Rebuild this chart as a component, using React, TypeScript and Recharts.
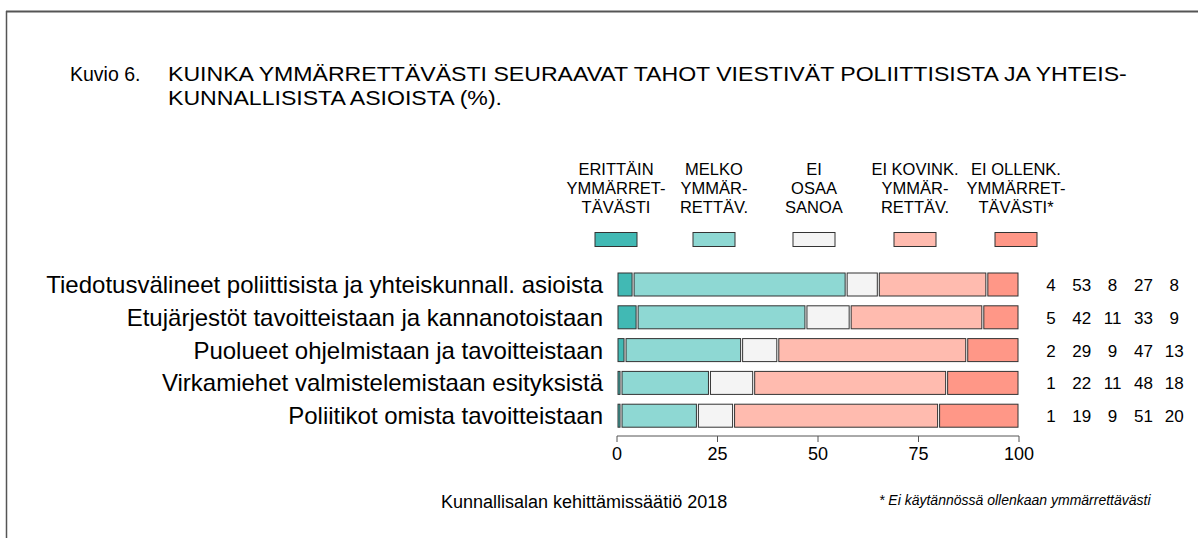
import React from "react";
import { BarChart, Bar, XAxis, YAxis, LabelList } from "recharts";

const categories = [
  "Tiedotusvälineet poliittisista ja yhteiskunnall. asioista",
  "Etujärjestöt tavoitteistaan ja kannanotoistaan",
  "Puolueet ohjelmistaan ja tavoitteistaan",
  "Virkamiehet valmistelemistaan esityksistä",
  "Poliitikot omista tavoitteistaan",
];

const erittain = [4, 5, 2, 1, 1];
const melko = [53, 42, 29, 22, 19];
const eiOsaa = [8, 11, 9, 11, 9];
const eiKovin = [27, 33, 47, 48, 51];
const eiOllenk = [8, 9, 13, 18, 20];

const xTicks = [0, 25, 50, 75, 100];

const legendLines = [
  ["ERITTÄIN", "YMMÄRRET-", "TÄVÄSTI"],
  ["MELKO", "YMMÄR-", "RETTÄV."],
  ["EI", "OSAA", "SANOA"],
  ["EI KOVINK.", "YMMÄR-", "RETTÄV."],
  ["EI OLLENK.", "YMMÄRRET-", "TÄVÄSTI*"],
];

const seriesKeys = ["erittain", "melko", "eiOsaa", "eiKovin", "eiOllenk"];
const seriesColors = ["#41b9b4", "#8ed8d3", "#f4f4f4", "#ffbbaf", "#ff9787"];

const data = categories.map((name, i) => ({
  name,
  erittain: erittain[i],
  melko: melko[i],
  eiOsaa: eiOsaa[i],
  eiKovin: eiKovin[i],
  eiOllenk: eiOllenk[i],
}));

const FONT = "'Liberation Sans', Arial, sans-serif";
const W = 1198;
const H = 538;
const OUTLINE = "#333";

// layout
const legendX = [616, 714, 814, 915, 1016];
const VALUE_X0 = 1051;
const VALUE_STEP = 30.8;

const Segment = (props: any) => {
  const { x, y, width, height, fill } = props;
  if (!width || width <= 0) return null;
  return (
    <rect
      x={x + 1}
      y={y}
      width={Math.max(width - 2, 1)}
      height={height}
      fill={fill}
      stroke={OUTLINE}
      strokeWidth={1}
    />
  );
};

const valueLabel = (col: number) => (props: any) => {
  const vb = props.viewBox || {};
  const y = vb.y ?? props.y;
  const h = vb.height ?? props.height;
  return (
    <text
      x={VALUE_X0 + col * VALUE_STEP}
      y={y + h / 2 + 1}
      textAnchor="middle"
      dominantBaseline="central"
      fontSize={17}
      fill="#000"
    >
      {props.value}
    </text>
  );
};

export default function App() {
  return (
    <div
      style={{
        position: "absolute",
        left: 0,
        top: 0,
        width: W,
        height: H,
        background: "#fff",
        fontFamily: FONT,
      }}
    >
      <BarChart
        width={W}
        height={H}
        data={data}
        layout="vertical"
        margin={{ top: 268, right: 179, bottom: 72, left: 0 }}
      >
        <XAxis
          type="number"
          domain={[0, 100]}
          ticks={xTicks}
          interval={0}
          height={30}
          tickSize={6}
          tickMargin={5}
          axisLine={{ stroke: "#555" }}
          tickLine={{ stroke: "#555" }}
          tick={{ fontSize: 18, fill: "#000" }}
        />
        <YAxis
          type="category"
          dataKey="name"
          width={617}
          tickSize={0}
          tickMargin={14}
          axisLine={false}
          tickLine={false}
          padding={{ top: 0, bottom: 4 }}
          tick={{ fontSize: 24, fill: "#000" }}
        />
        {seriesKeys.map((key, i) => (
          <Bar
            key={key}
            dataKey={key}
            stackId="a"
            fill={seriesColors[i]}
            barSize={23}
            shape={<Segment />}
            isAnimationActive={false}
          >
            <LabelList dataKey={key} content={valueLabel(i)} />
          </Bar>
        ))}
      </BarChart>

      <svg
        width={W}
        height={H}
        style={{ position: "absolute", left: 0, top: 0, pointerEvents: "none" }}
      >
        {/* frame */}
        <line x1={6} y1={11.5} x2={W} y2={11.5} stroke="#555" strokeWidth={2} />
        <line x1={6.5} y1={11} x2={6.5} y2={H} stroke="#555" strokeWidth={1.5} />

        {/* title */}
        <text x={70} y={81} fontSize={19.5} fill="#000">
          Kuvio 6.
        </text>
        <g transform="translate(168 0) scale(1.1 1)">
          <text x={0} y={81} fontSize={21} fill="#000">
            KUINKA YMMÄRRETTÄVÄSTI SEURAAVAT TAHOT VIESTIVÄT POLIITTISISTA JA YHTEIS-
          </text>
          <text x={0} y={105} fontSize={21} fill="#000">
            KUNNALLISISTA ASIOISTA (%).
          </text>
        </g>

        {/* legend */}
        {legendLines.map((lines, i) => (
          <g key={i}>
            {lines.map((line, j) => (
              <text
                key={j}
                x={legendX[i]}
                y={175 + j * 19}
                textAnchor="middle"
                fontSize={16.5}
                fill="#000"
              >
                {line}
              </text>
            ))}
            <rect
              x={legendX[i] - 21}
              y={232.5}
              width={42}
              height={14}
              fill={seriesColors[i]}
              stroke={OUTLINE}
              strokeWidth={1}
            />
          </g>
        ))}

        {/* footer */}
        <text x={441} y={508} fontSize={18} fill="#000">
          Kunnallisalan kehittämissäätiö 2018
        </text>
        <text x={879} y={505} fontSize={14} fontStyle="italic" fill="#000">
          * Ei käytännössä ollenkaan ymmärrettävästi
        </text>
      </svg>
    </div>
  );
}
